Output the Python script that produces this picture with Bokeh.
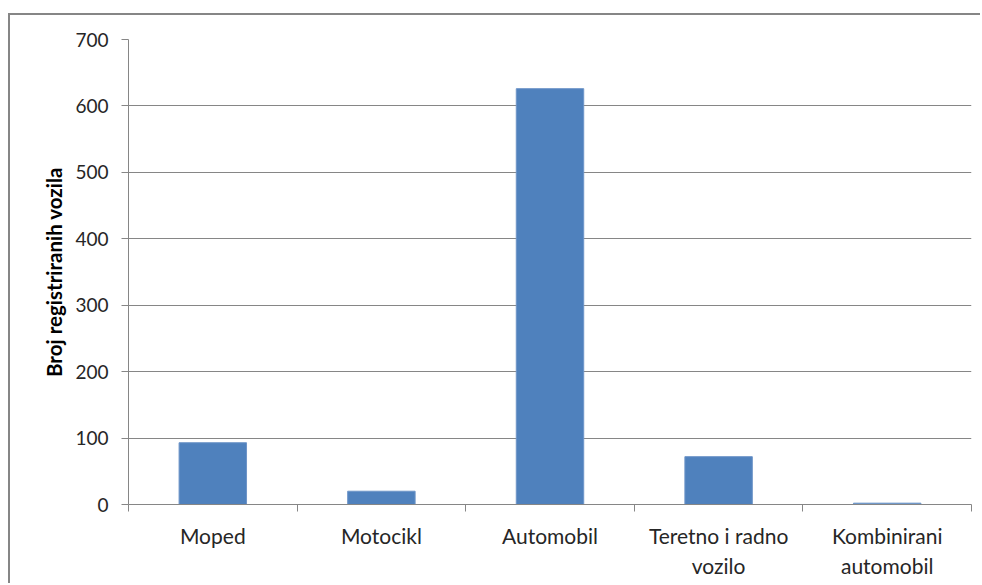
from bokeh.plotting import figure
from bokeh.models import FixedTicker, Range1d, ColumnDataSource
from bokeh.embed import file_html
from bokeh.resources import INLINE

categories = ["Moped", "Motocikl", "Automobil", "Teretno i radno\nvozilo", "Kombinirani\nautomobil"]
values = [93, 20, 626, 72, 2]
y_ticks = [0, 100, 200, 300, 400, 500, 600, 700]

FONT = "Lato"
GRID = "#868686"
TXT = "#262626"

W, H = 980, 583
p = figure(width=W, height=H, output_backend="svg", toolbar_location=None,
           x_range=Range1d(0, len(categories)), y_range=Range1d(0, 700),
           min_border_left=128, min_border_right=9, min_border_top=39, min_border_bottom=79)
# chart-area border (left/top edges visible; right/bottom lie outside the window)
p.styles = {"background-color": "#ffffff",
            "box-shadow": "inset 8px 13px 0px 0px #ffffff, inset 10px 15px 0px 0px #868686"}
p.outline_line_color = None
p.background_fill_color = "white"
p.border_fill_color = None

xs = [i + 0.5 for i in range(len(categories))]
src = ColumnDataSource(dict(x=xs, top=values))
p.vbar(x="x", top="top", width=0.4, bottom=0, source=src,
       fill_color="#4F81BD", line_color="#6E95C8", line_width=1)

# x axis: labels at centers, ticks at category boundaries
xa = p.xaxis[0]
xa.ticker = FixedTicker(ticks=xs, minor_ticks=list(range(len(categories) + 1)))
xa.major_label_overrides = {x: c for x, c in zip(xs, categories)}
xa.major_tick_line_color = None
xa.minor_tick_line_color = GRID
xa.minor_tick_out = 7
xa.minor_tick_in = 0
xa.axis_line_color = GRID
xa.major_label_text_font = FONT
xa.major_label_text_font_size = "21px"
xa.major_label_text_color = TXT
xa.major_label_standoff = 11

ya = p.yaxis[0]
ya.ticker = FixedTicker(ticks=y_ticks)
ya.minor_tick_line_color = None
ya.major_tick_line_color = GRID
ya.major_tick_out = 7
ya.major_tick_in = 0
ya.axis_line_color = GRID
ya.major_label_text_font = FONT
ya.major_label_text_font_size = "19px"
ya.major_label_text_color = TXT
ya.major_label_standoff = 13
ya.axis_label = "Broj registriranih vozila"
ya.axis_label_text_font = FONT
ya.axis_label_text_font_style = "bold"
ya.axis_label_text_font_size = "20.5px"
ya.axis_label_text_color = "#000000"
ya.axis_label_standoff = 6

p.xgrid.grid_line_color = None
p.ygrid.grid_line_color = GRID
p.ygrid.grid_line_width = 1

open("out.html", "w").write(file_html(p, INLINE))
